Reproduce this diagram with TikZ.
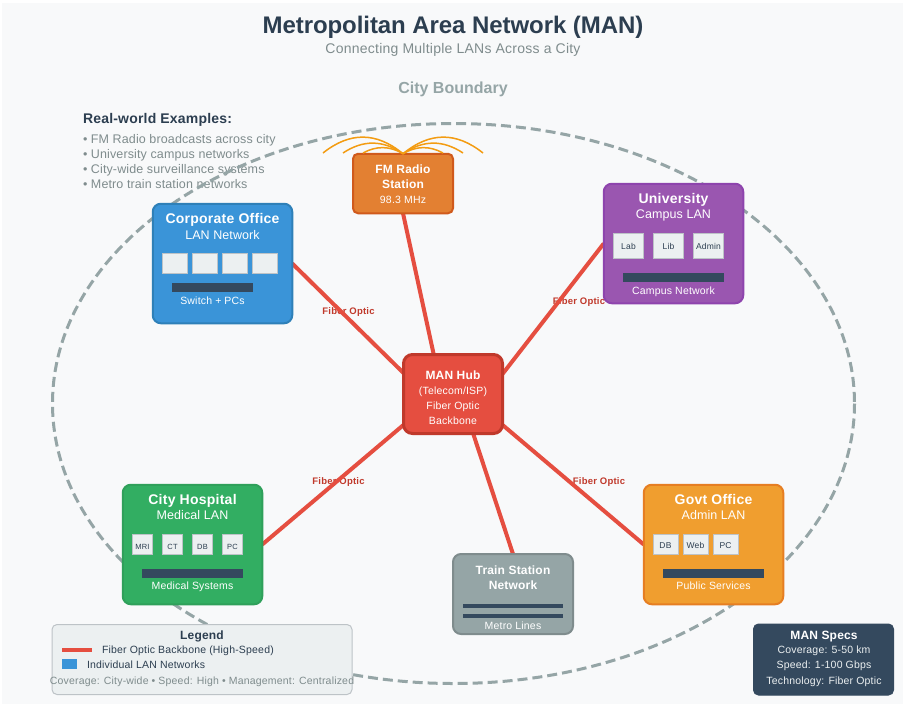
\documentclass[tikz,border=0pt]{standalone}
\usepackage{fontspec}
\setmainfont{Liberation Sans}
\pgfdeclarelayer{under}
\pgfsetlayers{under,main}
\definecolor{pagebg}{HTML}{F8F9FA}
\definecolor{ink}{HTML}{2C3E50}
\definecolor{muted}{HTML}{7F8C8D}
\definecolor{cityc}{HTML}{95A5A6}
\definecolor{dark}{HTML}{34495E}
\definecolor{fiber}{HTML}{E54E40}
\definecolor{fiberd}{HTML}{C0392B}
\definecolor{pale}{HTML}{ECF0F1}
\definecolor{paleb}{HTML}{BDC3C7}
\definecolor{corpf}{HTML}{3A94D8}
\definecolor{corpd}{HTML}{2E80B8}
\definecolor{univf}{HTML}{9A56B0}
\definecolor{univd}{HTML}{8E44AD}
\definecolor{fmf}{HTML}{E38032}
\definecolor{fmd}{HTML}{D05A1C}
\definecolor{hospf}{HTML}{32AE62}
\definecolor{hospd}{HTML}{2FA05A}
\definecolor{govf}{HTML}{F09E2F}
\definecolor{govd}{HTML}{E67E22}
\definecolor{wave}{HTML}{F39C12}
\newcommand{\fsz}[1]{\fontsize{#1}{#1}\selectfont}
\newcommand{\lsp}[1]{\addfontfeature{LetterSpace=#1}}
\tikzset{
  lbl/.style={inner sep=0pt,outer sep=0pt,anchor=base},
  lbll/.style={inner sep=0pt,outer sep=0pt,anchor=base west},
  wt/.style={lbl,text=white},
  head/.style={font=\fsz{14}\bfseries\lsp{1.8}},
  sub/.style={font=\fsz{12.5}\lsp{0.7}},
  small/.style={font=\fsz{10.5}\lsp{1.8}},
  smallb/.style={font=\fsz{12}\bfseries\lsp{1.5}},
  tiny/.style={font=\fsz{8.5}\lsp{2.5}},
  tinier/.style={font=\fsz{7.5}\lsp{2.5}},
  listt/.style={lbll,text=muted,font=\fsz{12.5}\lsp{1}},
  boxbase/.style={rectangle,rounded corners=8pt,line width=2pt,outer sep=0pt,inner sep=0pt},
  lanbox/.style={boxbase,minimum width=139.5pt,minimum height=119.5pt},
  dev/.style={rectangle,draw=paleb,fill=pale,line width=1pt,outer sep=0pt,inner sep=0pt},
  barbox/.style={rectangle,fill=dark,draw=none,inner sep=0pt,outer sep=0pt},
  link/.style={draw=fiber,line width=4pt},
  fibl/.style={lbl,text=fiberd,font=\fsz{9.5}\bfseries\lsp{2.5}},
  wavec/.style={draw=wave,line width=1.5pt},
}
\begin{document}
\begin{tikzpicture}[x=1pt,y=-1pt]
\useasboundingbox (0,0) rectangle (907,705);

% main boxes
\node[lanbox,draw=corpd,fill=corpf] (corp) at (222.5,263.5) {};
\node[lanbox,draw=univd,fill=univf] (univ) at (673.5,243.5) {};
\node[lanbox,draw=hospd,fill=hospf] (hosp) at (192.5,544.5) {};
\node[lanbox,draw=govd,fill=govf] (gov) at (713.5,544.5) {};
\node[boxbase,rounded corners=5pt,draw=fmd,fill=fmf,minimum width=100pt,minimum height=59.5pt] (fm) at (403,183.5) {};
\node[boxbase,draw=muted,fill=cityc,minimum width=120pt,minimum height=80pt] (train) at (513,594) {};
\node[boxbase,line width=3pt,rounded corners=9pt,draw=fiberd,fill=fiber,minimum width=99pt,minimum height=79pt] (hub) at (453,394) {};

% under layer
\begin{pgfonlayer}{under}
\fill[white] (0,0) rectangle (907,705);
\fill[pagebg] (2,3) rectangle (903,704);
\node[lbll,text=ink,font=\fsz{14}\bfseries\lsp{1.4}] (exh) at (83,123) {Real-world Examples:};
\node[listt] (ex1) at (83,143) {• FM Radio broadcasts across city};
\node[listt] (ex2) at (83,158) {• University campus networks};
\node[listt] (ex3) at (83,173) {• City-wide surveillance systems};
\node[listt] (ex4) at (83,188) {• Metro train station networks};
\draw[cityc,line width=3pt,dash pattern=on 10pt off 5pt] (453.5,403.5) ellipse [x radius=401,y radius=280];
\node[fibl] (f1) at (348.5,314) {Fiber Optic};
\node[fibl] (f2) at (579,304) {Fiber Optic};
\node[fibl] (f3) at (338.5,484) {Fiber Optic};
\node[fibl] (f4) at (599,484) {Fiber Optic};
\draw[link] (corp.east) -- (hub.157.7);
\draw[link] (fm.south) -- (hub.116.3);
\draw[link] (univ.west) -- (hub.22.3);
\draw[link] (hosp.east) -- (hub.212.2);
\draw[link] (gov.west) -- (hub.-32.2);
\draw[link] (train.north) -- (hub.-63.7);
\end{pgfonlayer}

% radio waves
\coordinate (wavebase) at (fm.north);
\draw[wavec] (323,153) .. controls (349.7,131.7) and (376.3,131.7) .. (wavebase);
\draw[wavec] (343,153) .. controls (363,139.7) and (383,139.7) .. (wavebase);
\draw[wavec] (363,153) .. controls (376.3,145.7) and (389.7,145.7) .. (wavebase);
\draw[wavec] (wavebase) .. controls (429.7,131.7) and (456.3,131.7) .. (483,153);
\draw[wavec] (wavebase) .. controls (423,139.7) and (443,139.7) .. (463,153);
\draw[wavec] (wavebase) .. controls (416.3,145.7) and (429.7,145.7) .. (443,153);

% headings
\node[lbl,text=ink,font=\fsz{24}\bfseries\lsp{-0.3}] (title) at (453,33) {Metropolitan Area Network (MAN)};
\node[lbl,text=muted,font=\fsz{14}\lsp{1.7}] (subtitle) at (453,53) {Connecting Multiple LANs Across a City};
\node[lbl,text=cityc,font=\fsz{16}\bfseries] (cityb) at (453,93) {City Boundary};

% corporate
\node[wt,head] (corpt) at (222.5,223) {Corporate Office};
\node[wt,sub] (corps) at (222.5,239) {LAN Network};
\node[dev,minimum width=25pt,minimum height=20pt] (c1) at (175,263.5) {};
\node[dev,minimum width=25pt,minimum height=20pt] (c2) at (205,263.5) {};
\node[dev,minimum width=25pt,minimum height=20pt] (c3) at (235,263.5) {};
\node[dev,minimum width=25pt,minimum height=20pt] (c4) at (265,263.5) {};
\node[barbox,minimum width=81pt,minimum height=8.5pt] (cbar) at (212.5,287.5) {};
\node[wt,small] (cn) at (212.5,304) {Switch + PCs};

% university
\node[wt,head] (univt) at (673.5,203) {University};
\node[wt,sub] (univs) at (673.5,218) {Campus LAN};
\node[dev,minimum width=30pt,minimum height=25pt] (u1) at (628.5,246) {};
\node[dev,minimum width=30pt,minimum height=25pt] (u2) at (668.5,246) {};
\node[dev,minimum width=30pt,minimum height=25pt] (u3) at (708.5,246) {};
\node[lbl,text=ink,tiny] (u1t) at (628.5,249) {Lab};
\node[lbl,text=ink,tiny] (u2t) at (668.5,249) {Lib};
\node[lbl,text=ink,tiny] (u3t) at (708.5,249) {Admin};
\node[barbox,minimum width=101pt,minimum height=8.5pt] (ubar) at (673.5,277.5) {};
\node[wt,small] (un) at (673.5,294) {Campus Network};

% hospital
\node[wt,head] (hospt) at (192.5,504) {City Hospital};
\node[wt,sub] (hosps) at (192.5,519) {Medical LAN};
\node[dev,minimum width=20pt,minimum height=20pt] (h1) at (142.5,544.5) {};
\node[dev,minimum width=20pt,minimum height=20pt] (h2) at (172.5,544.5) {};
\node[dev,minimum width=20pt,minimum height=20pt] (h3) at (202.5,544.5) {};
\node[dev,minimum width=20pt,minimum height=20pt] (h4) at (232.5,544.5) {};
\node[lbl,text=ink,tinier] (h1t) at (142.5,549.5) {MRI};
\node[lbl,text=ink,tinier] (h2t) at (172.5,549.5) {CT};
\node[lbl,text=ink,tinier] (h3t) at (202.5,549.5) {DB};
\node[lbl,text=ink,tinier] (h4t) at (232.5,549.5) {PC};
\node[barbox,minimum width=101pt,minimum height=8.5pt] (hbar) at (192.5,573.5) {};
\node[wt,small] (hn) at (192.5,589) {Medical Systems};

% government
\node[wt,head] (govt) at (713.5,504) {Govt Office};
\node[wt,sub] (govs) at (713.5,519) {Admin LAN};
\node[dev,minimum width=25pt,minimum height=20pt] (g1) at (665.5,544.5) {};
\node[dev,minimum width=25pt,minimum height=20pt] (g2) at (695.5,544.5) {};
\node[dev,minimum width=25pt,minimum height=20pt] (g3) at (725.5,544.5) {};
\node[lbl,text=ink,tiny] (g1t) at (665.5,548.5) {DB};
\node[lbl,text=ink,tiny] (g2t) at (695.5,548.5) {Web};
\node[lbl,text=ink,tiny] (g3t) at (725.5,548.5) {PC};
\node[barbox,minimum width=101pt,minimum height=8.5pt] (gbar) at (713.5,573.5) {};
\node[wt,small] (gn) at (713.5,589) {Public Services};

% FM
\node[wt,smallb] (fm1) at (403,173) {FM Radio};
\node[wt,smallb] (fm2) at (403,188) {Station};
\node[wt,small] (fm3) at (403,203) {98.3 MHz};

% train
\node[wt,smallb] (tr1) at (513,574) {Train Station};
\node[wt,smallb] (tr2) at (513,589) {Network};
\node[barbox,minimum width=100pt,minimum height=4pt] (tb1) at (513,606) {};
\node[barbox,minimum width=100pt,minimum height=4pt] (tb2) at (513,616) {};
\node[wt,small] (tr3) at (513,629) {Metro Lines};

% hub
\node[wt,smallb] (hb1) at (453,379) {MAN Hub};
\node[wt,small] (hb2) at (453,394) {(Telecom/ISP)};
\node[wt,small] (hb3) at (453,409) {Fiber Optic};
\node[wt,small] (hb4) at (453,424) {Backbone};

% legend
\node[boxbase,rounded corners=5pt,line width=1pt,draw=paleb,fill=pale,minimum width=300pt,minimum height=70pt] (legend) at (202,659.5) {};
\node[lbl,text=ink,font=\fsz{12}\bfseries\lsp{1.5}] (legt) at (202,639) {Legend};
\coordinate (ls) at (62,649.5);
\coordinate (le) at (92,649.5);
\draw[link] (ls) -- (le);
\node[lbll,text=ink,small] (legf) at (102,653.5) {Fiber Optic Backbone (High-Speed)};
\node[rectangle,fill=corpf,minimum width=15pt,minimum height=10pt,inner sep=0pt,outer sep=0pt] (legb) at (69.5,664) {};
\node[lbll,text=ink,small] (legl) at (87,668.5) {Individual LAN Networks};
\node[lbl,text=muted,small] (legc) at (202,684) {Coverage: City-wide • Speed: High • Management: Centralized};

% specs
\node[boxbase,rounded corners=5pt,line width=1pt,draw=dark,fill=dark,minimum width=140pt,minimum height=71pt] (specs) at (823.5,659.5) {};
\node[wt,smallb] (sp1) at (824,639) {MAN Specs};
\node[lbl,text=pale,small] (sp2) at (824,653.5) {Coverage: 5-50 km};
\node[lbl,text=pale,small] (sp3) at (824,668.5) {Speed: 1-100 Gbps};
\node[lbl,text=pale,small] (sp4) at (824,684) {Technology: Fiber Optic};
\end{tikzpicture}
\end{document}
